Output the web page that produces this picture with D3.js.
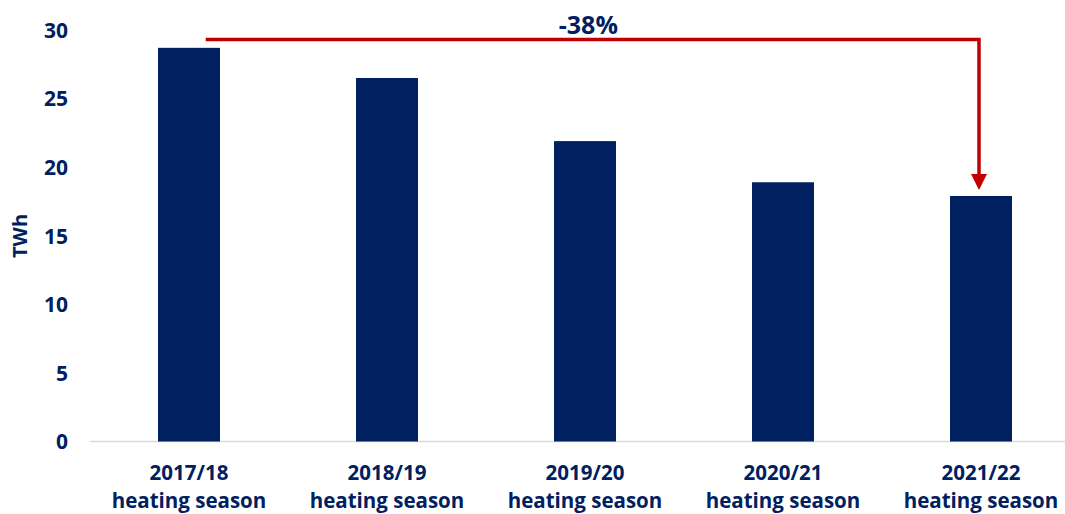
<!DOCTYPE html>
<html><head><meta charset="utf-8">
<script src="https://cdn.jsdelivr.net/npm/d3@7"></script>
<style>body{margin:0;background:#fff}svg{display:block}text{font-family:"Open Sans",sans-serif;font-weight:700;fill:#002060}</style>
</head><body><svg id="c" width="1065" height="514"></svg>
<script>
const categories = ["2017/18", "2018/19", "2019/20", "2020/21", "2021/22"];
const categorySuffix = "heating season";
const values = [28.7, 26.5, 21.9, 18.9, 17.9];
const yTicks = [0, 5, 10, 15, 20, 25, 30];
const yTitle = "TWh";
const changeLabel = "-38%";

const svg = d3.select("#c");
const navy = "#002060", red = "#C00000";
const x = d3.scaleBand().domain(categories).range([90, 1080]).paddingInner(0.687).paddingOuter(0.3435);
const y = d3.scaleLinear().domain([0, 30]).range([441.5, 30]);

// baseline
svg.append("line").attr("x1", 90).attr("x2", 1065).attr("y1", y(0)).attr("y2", y(0))
  .attr("stroke", "#d9d9d9").attr("stroke-width", 1.5);

// bars
svg.selectAll("rect.bar").data(values).enter().append("rect").attr("class", "bar")
  .attr("x", (d, i) => x(categories[i])).attr("width", x.bandwidth())
  .attr("y", d => y(d)).attr("height", d => y(0) - y(d)).attr("fill", navy);

// y axis
const yAxis = d3.axisLeft(y).tickValues(yTicks).tickSize(0).tickPadding(0);
const gy = svg.append("g").attr("transform", "translate(68,0)").call(yAxis);
gy.select(".domain").remove();
gy.selectAll("text").attr("font-size", 21).attr("font-family", "Open Sans").attr("font-weight", 700).attr("fill", navy).attr("dy", "0.35em");

// x axis labels
const xAxis = d3.axisBottom(x).tickSize(0).tickFormat(() => "");
const gx = svg.append("g").attr("transform", `translate(0,${y(0)})`).call(xAxis);
gx.select(".domain").remove();
gx.selectAll(".tick").each(function(d) {
  const t = d3.select(this).append("text").attr("text-anchor", "middle").attr("font-size", 20.5).attr("fill", navy);
  t.append("tspan").attr("x", 0).attr("y", 38.5).text(d);
  t.append("tspan").attr("x", 0).attr("y", 66).text(categorySuffix);
});

// y title
svg.append("text").attr("transform", "translate(27,236) rotate(-90)").attr("text-anchor", "middle")
  .attr("font-size", 20).text(yTitle);

// change arrow
const x0 = x(categories[0]) + x.bandwidth() * 0.77;
const x1 = x(categories[4]) + x.bandwidth() / 2 - 2;
const yTop = 39.5;
const tipY = y(values[4]) - 6;
svg.append("path").attr("d", `M${x0},${yTop}H${x1}V${tipY - 14}`).attr("fill", "none")
  .attr("stroke", red).attr("stroke-width", 3.5);
svg.append("path").attr("d", `M${x1 - 8},${tipY - 16}L${x1 + 8},${tipY - 16}L${x1},${tipY}Z`).attr("fill", red);

svg.append("text").attr("x", (x0 + x1) / 2 - 4).attr("y", 34).attr("text-anchor", "middle")
  .attr("font-size", 25).text(changeLabel);
</script></body></html>
